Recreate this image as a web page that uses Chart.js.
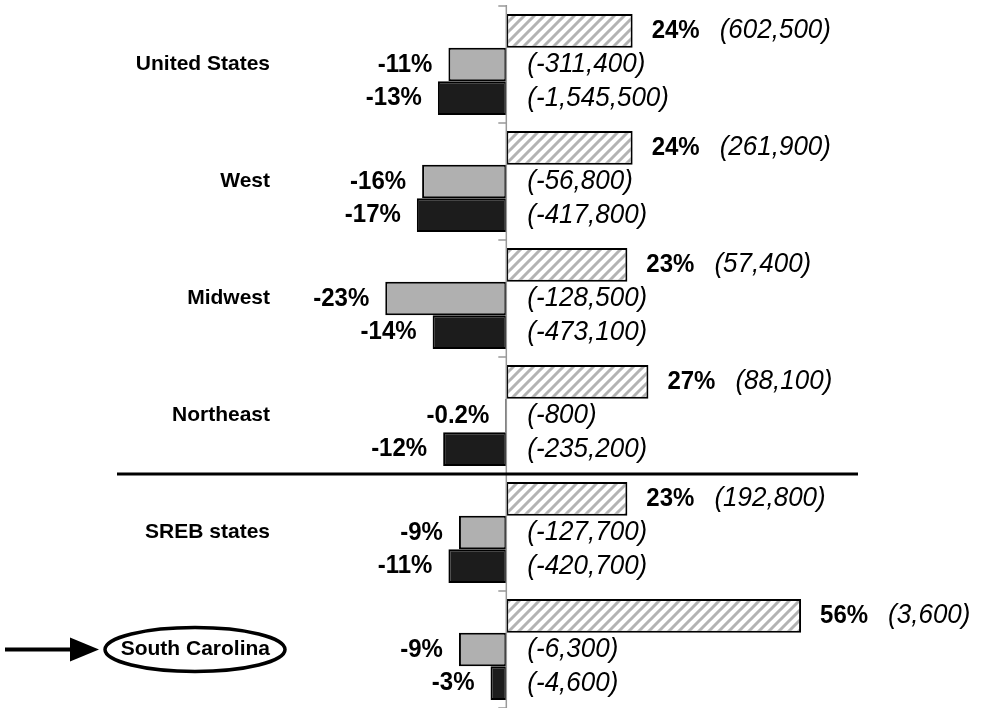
<!DOCTYPE html>
<html>
<head>
<meta charset="utf-8">
<script src="https://cdn.jsdelivr.net/npm/chart.js@4.4.1/dist/chart.umd.min.js"></script>
<style>
html, body { margin: 0; padding: 0; background: #fff; }
</style>
</head>
<body>
<canvas id="chart" width="984" height="708"></canvas>
<script>
const regions = ['United States', 'West', 'Midwest', 'Northeast', 'SREB states', 'South Carolina'];
const hatchPct = [24, 24, 23, 27, 23, 56];
const grayPct = [-11, -16, -23, -0.2, -9, -9];
const blackPct = [-13, -17, -14, -12, -11, -3];
const hatchCount = [602500, 261900, 57400, 88100, 192800, 3600];
const grayCount = [-311400, -56800, -128500, -800, -127700, -6300];
const blackCount = [-1545500, -417800, -473100, -235200, -420700, -4600];

const FONT = '"Liberation Sans", Arial, sans-serif';

// diagonal hatch fill
function makeHatch() {
    const c = document.createElement('canvas');
    c.width = 10; c.height = 10;
    const g = c.getContext('2d');
    g.fillStyle = '#fff';
    g.fillRect(0, 0, 10, 10);
    g.strokeStyle = '#b3b3b3';
    g.lineWidth = 3;
    g.beginPath();
    g.moveTo(-5, 5); g.lineTo(5, -5);
    g.moveTo(0, 10); g.lineTo(10, 0);
    g.moveTo(5, 15); g.lineTo(15, 5);
    g.stroke();
    return g.createPattern(c, 'repeat');
}

const counts = [hatchCount, grayCount, blackCount];

function fmtCount(v) {
    return '(' + v.toLocaleString('en-US') + ')';
}

// text slightly stretched vertically like the original
function tallText(ctx, txt, x, y, sy) {
    ctx.save();
    ctx.translate(x, y);
    ctx.scale(1, sy);
    ctx.fillText(txt, 0, 0);
    ctx.restore();
}

const extras = {
    id: 'extras',
    afterDatasetsDraw(chart) {
        const ctx = chart.ctx;
        const xs = chart.scales.x, ys = chart.scales.y;
        const area = chart.chartArea;
        const x0 = xs.getPixelForValue(0);
        const catH = (area.bottom - area.top) / regions.length;

        ctx.save();
        // zero axis with tick marks at category boundaries
        ctx.strokeStyle = '#999';
        ctx.lineWidth = 1.5;
        ctx.beginPath();
        ctx.moveTo(x0, area.top - 1);
        ctx.lineTo(x0, area.bottom);
        for (let i = 0; i <= regions.length; i++) {
            const ty = area.top + i * catH;
            ctx.moveTo(x0 - 8, ty);
            ctx.lineTo(x0, ty);
        }
        ctx.stroke();

        // separator between regions and SREB
        const sy = (ys.getPixelForValue(3) + ys.getPixelForValue(4)) / 2;
        ctx.strokeStyle = '#000';
        ctx.lineWidth = 3;
        ctx.beginPath();
        ctx.moveTo(117, sy);
        ctx.lineTo(858, sy);
        ctx.stroke();

        // value labels
        ctx.textBaseline = 'middle';
        ctx.fillStyle = '#000';
        chart.data.datasets.forEach((ds, di) => {
            const meta = chart.getDatasetMeta(di);
            meta.data.forEach((el, j) => {
                const v = ds.data[j];
                const pct = v + '%';
                const cnt = fmtCount(counts[di][j]);
                if (v > 0) {
                    ctx.font = 'bold 24px ' + FONT;
                    ctx.textAlign = 'left';
                    const px = el.x + 19;
                    tallText(ctx, pct, px, el.y, 1.08);
                    const w = ctx.measureText(pct).width;
                    ctx.font = 'italic 26px ' + FONT;
                    tallText(ctx, cnt, px + w + 20, el.y, 1.05);
                } else {
                    ctx.font = 'bold 24px ' + FONT;
                    ctx.textAlign = 'right';
                    tallText(ctx, pct, el.x - 16, el.y, 1.08);
                    ctx.font = 'italic 26px ' + FONT;
                    ctx.textAlign = 'left';
                    tallText(ctx, cnt, x0 + 21, el.y, 1.05);
                }
            });
        });

        // highlight South Carolina
        const scY = ys.getPixelForValue(5);
        ctx.strokeStyle = '#000';
        ctx.lineWidth = 3.5;
        ctx.beginPath();
        ctx.ellipse(195, scY, 90, 22, 0, 0, Math.PI * 2);
        ctx.stroke();
        ctx.lineWidth = 4;
        ctx.beginPath();
        ctx.moveTo(5, scY);
        ctx.lineTo(75, scY);
        ctx.stroke();
        ctx.fillStyle = '#000';
        ctx.beginPath();
        ctx.moveTo(70, scY - 12);
        ctx.lineTo(99, scY);
        ctx.lineTo(70, scY + 12);
        ctx.closePath();
        ctx.fill();
        ctx.restore();
    }
};

const ctx = document.getElementById('chart').getContext('2d');
new Chart(ctx, {
    type: 'bar',
    data: {
        labels: regions,
        datasets: [
            { label: 'hatch', data: hatchPct, backgroundColor: makeHatch() },
            { label: 'gray', data: grayPct, backgroundColor: '#b0b0b0' },
            { label: 'black', data: blackPct, backgroundColor: '#1c1c1c' }
        ]
    },
    options: {
        indexAxis: 'y',
        responsive: false,
        animation: false,
        datasets: {
            bar: {
                borderColor: '#000',
                borderWidth: 2,
                borderSkipped: false,
                categoryPercentage: 0.865,
                barPercentage: 1.0
            }
        },
        layout: { padding: { top: 6, right: 4, bottom: 0, left: 0 } },
        plugins: {
            legend: { display: false },
            tooltip: { enabled: false }
        },
        scales: {
            x: { display: false, min: -43, max: 90 },
            y: {
                grid: { display: false, drawTicks: false },
                border: { display: false },
                ticks: {
                    color: '#000',
                    padding: 10,
                    font: { family: FONT, size: 21, weight: 'bold' }
                },
                afterFit(scale) {
                    scale.width = 280;
                    scale.paddingTop = 0;
                    scale.paddingBottom = 0;
                }
            }
        }
    },
    plugins: [extras]
});
</script>
</body>
</html>
